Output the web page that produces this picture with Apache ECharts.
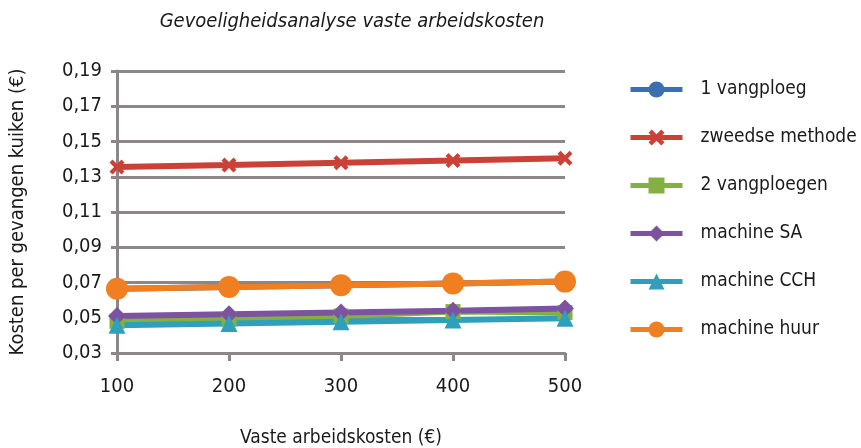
<!DOCTYPE html>
<html>
<head>
<meta charset="utf-8">
<script src="https://cdn.jsdelivr.net/npm/echarts@6/dist/echarts.min.js"></script>
<style>
  html, body { margin: 0; padding: 0; background: #fff; }
  #chart { width: 861px; height: 448px; }
</style>
</head>
<body>
<div id="chart"></div>
<script>
// gevoeligheidsanalyse vaste arbeidskosten
var kosten = [100, 200, 300, 400, 500];
var yTicks = [0.03, 0.05, 0.07, 0.09, 0.11, 0.13, 0.15, 0.17, 0.19];

var vangploeg1 = [0.0665, 0.0675, 0.0685, 0.0695, 0.0705];
var zweedse = [0.1355, 0.1367, 0.1380, 0.1392, 0.1405];
var vangploegen2 = [0.0480, 0.0492, 0.0510, 0.0535, 0.0530];
var machineSA = [0.0510, 0.0520, 0.0530, 0.0540, 0.0552];
var machineCCH = [0.0457, 0.0467, 0.0477, 0.0487, 0.0497];
var machineHuur = [0.0665, 0.0675, 0.0685, 0.0695, 0.0705];

var font = '"DejaVu Sans Condensed", "DejaVu Sans", sans-serif';
var kruis = 'path://M2,0 L5,3 L8,0 L10,2 L7,5 L10,8 L8,10 L5,7 L2,10 L0,8 L3,5 L0,2 Z';
var asKleur = '#8c8589';

function serie(naam, data, kleur, symbool, grootte) {
  return {
    name: naam,
    type: 'line',
    data: data.map(function (v, i) { return [kosten[i], v]; }),
    symbol: symbool,
    symbolSize: grootte,
    showAllSymbol: true,
    lineStyle: { color: kleur, width: 6 },
    itemStyle: { color: kleur },
    emphasis: { disabled: true }
  };
}

var chart = echarts.init(document.getElementById('chart'));
chart.setOption({
  animation: false,
  title: {
    text: 'Gevoeligheidsanalyse vaste arbeidskosten',
    left: 347,
    textAlign: 'center',
    top: 7,
    textStyle: { fontFamily: font, fontSize: 20, fontStyle: 'italic', fontWeight: 'normal', color: '#1a1a1a' }
  },
  legend: {
    orient: 'vertical',
    left: 623,
    top: 74,
    itemGap: 27,
    itemWidth: 52,
    itemHeight: 20,
    lineStyle: { width: 5 },
    textStyle: { fontFamily: font, fontSize: 19, lineHeight: 21, color: '#1a1a1a', padding: [0, 0, 0, 13] },
    data: ['1 vangploeg', 'zweedse methode', '2 vangploegen', 'machine SA', 'machine CCH', 'machine huur']
  },
  grid: { left: 117, right: 296, top: 71, bottom: 95, outerBoundsMode: 'none', containLabel: false },
  xAxis: {
    type: 'value',
    min: 100,
    max: 500,
    interval: 100,
    name: 'Vaste arbeidskosten (€)',
    nameLocation: 'middle',
    nameGap: 76,
    nameTextStyle: { fontFamily: font, fontSize: 19, color: '#1a1a1a' },
    axisLine: { show: true, lineStyle: { color: asKleur, width: 3 } },
    axisTick: { show: true, length: 8, lineStyle: { color: asKleur, width: 3 } },
    axisLabel: { fontFamily: font, fontSize: 20, color: '#1a1a1a', margin: 24 },
    splitLine: { show: false }
  },
  yAxis: {
    type: 'value',
    min: yTicks[0],
    max: yTicks[yTicks.length - 1],
    interval: 0.02,
    name: 'Kosten per gevangen kuiken (€)',
    nameLocation: 'middle',
    nameGap: 89,
    nameTextStyle: { fontFamily: font, fontSize: 20, color: '#1a1a1a' },
    axisLine: { show: true, lineStyle: { color: asKleur, width: 3 } },
    axisTick: { show: true, length: 6, lineStyle: { color: asKleur, width: 3 } },
    axisLabel: {
      fontFamily: font, fontSize: 20, color: '#1a1a1a', margin: 15,
      formatter: function (v) { return v.toFixed(2).replace('.', ','); }
    },
    splitLine: { show: true, lineStyle: { color: asKleur, width: 3 } }
  },
  series: [
    serie('1 vangploeg', vangploeg1, '#3c6eb4', 'circle', 16),
    serie('zweedse methode', zweedse, '#cc4137', kruis, 15),
    serie('2 vangploegen', vangploegen2, '#84b042', 'rect', 15),
    serie('machine SA', machineSA, '#7d52a0', 'diamond', 18),
    serie('machine CCH', machineCCH, '#2fa0bb', 'triangle', 17),
    serie('machine huur', machineHuur, '#f07f22', 'circle', 22)
  ]
});
</script>
</body>
</html>
